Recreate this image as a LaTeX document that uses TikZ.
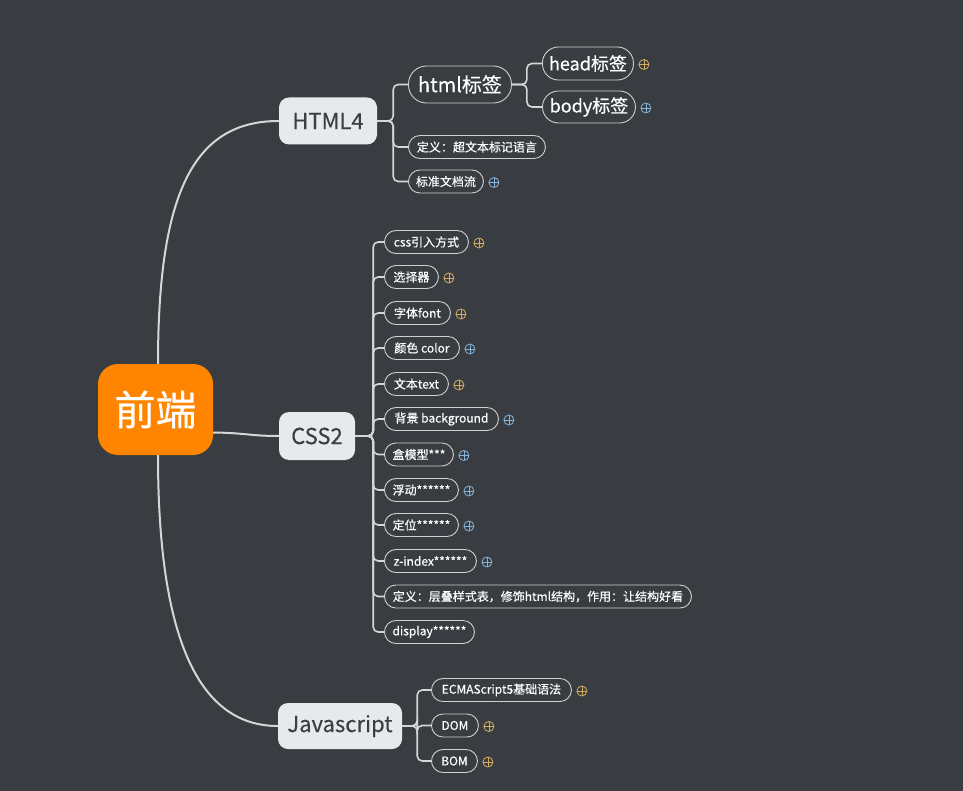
\documentclass[tikz,border=0pt]{standalone}
\usepackage{fontspec}
\setmainfont{Noto Sans CJK SC}[FakeBold=0.4]
\definecolor{bgc}{HTML}{393C41}
\definecolor{orng}{HTML}{FF8500}
\definecolor{lightbox}{HTML}{E8E9EC}
\definecolor{darktext}{HTML}{3B3E44}
\definecolor{linec}{HTML}{D6D6D6}
\definecolor{pillc}{HTML}{CFCFCF}
\definecolor{plusgold}{HTML}{D6AE62}
\definecolor{plusblue}{HTML}{86B6DE}
\tikzset{
  mainbox/.style={fill=lightbox, draw=none, rounded corners=10pt, inner sep=0pt, text=darktext, font=\fontsize{22}{26}\selectfont},
  pill/.style={draw=pillc, line width=0.9pt, inner sep=0pt, text=white, anchor=west},
  leaf/.style={pill, rounded corners=11.5pt, minimum height=23pt, font=\fontsize{12}{14}\selectfont},
  conn/.style={draw=linec, line width=1.6pt, rounded corners=5pt},
  curve/.style={draw=linec, line width=2pt},
  plusg/.style={circle, draw=plusgold, line width=0.8pt, minimum size=10pt, inner sep=0pt,
    path picture={\draw[plusgold, line width=0.8pt] (path picture bounding box.north) -- (path picture bounding box.south) (path picture bounding box.west) -- (path picture bounding box.east);}},
  plusb/.style={circle, draw=plusblue, line width=0.8pt, minimum size=10pt, inner sep=0pt,
    path picture={\draw[plusblue, line width=0.8pt] (path picture bounding box.north) -- (path picture bounding box.south) (path picture bounding box.west) -- (path picture bounding box.east);}},
}
\begin{document}
\begin{tikzpicture}[x=1pt, y=-1pt]
\useasboundingbox[fill=bgc] (0,0) rectangle (963,791);

% root
\node[fill=orng, rounded corners=20pt, minimum width=115pt, minimum height=91pt, inner sep=0pt, text=white, font=\fontsize{41}{46}\selectfont] (root) at (155.5,409.5) {前端};

% main branches
\node[mainbox, minimum width=98pt, minimum height=47pt] (html) at (328,121) {HTML4};
\node[mainbox, minimum width=76pt, minimum height=48pt] (css) at (317,436) {CSS2};
\node[mainbox, minimum width=124pt, minimum height=46pt] (js) at (340,726) {Javascript};

\draw[curve] ([xshift=2.5pt]root.north) .. controls (158,190) and (195,121) .. (html.west);
\draw[curve] ([yshift=-23pt]root.east) .. controls (247,433) and (250,436) .. (css.west);
\draw[curve] ([xshift=2.5pt]root.south) .. controls (158,630) and (195,726) .. (js.west);

% HTML4 children
\node[pill, rounded corners=18pt, minimum width=103pt, minimum height=37pt, font=\fontsize{20}{24}\selectfont] (htag) at (408,84.5) {html标签};
\node[leaf, minimum width=137pt] (hdef) at (408,147) {定义：超文本标记语言};
\node[leaf, minimum width=75pt] (hflow) at (408,181.5) {标准文档流};
\node[pill, rounded corners=16pt, minimum width=91pt, minimum height=33pt, font=\fontsize{18}{22}\selectfont] (head) at (542,63.5) {head标签};
\node[pill, rounded corners=16pt, minimum width=93pt, minimum height=32pt, font=\fontsize{18}{22}\selectfont] (body) at (542,107) {body标签};

\foreach \c in {htag,hdef,hflow} \draw[conn] (html.east) -- ++(16,0) |- (\c.west);
\foreach \c in {head,body} \draw[conn] (htag.east) -- ++(15,0) |- (\c.west);

\node[plusg] (phead) at ([xshift=10pt,yshift=-1pt]head.east) {};
\node[plusb] (pbody) at ([xshift=10pt,yshift=-1pt]body.east) {};
\node[plusb] (pflow) at ([xshift=10pt,yshift=-1pt]hflow.east) {};

% CSS2 children
\node[leaf, minimum width=84pt] (c1) at (384,242) {css引入方式};
\node[leaf, minimum width=54pt] (c2) at (384,277) {选择器};
\node[leaf, minimum width=66pt] (c3) at (384,313) {字体font};
\node[leaf, minimum width=75pt] (c4) at (384,348) {颜色 color};
\node[leaf, minimum width=64pt] (c5) at (384,384) {文本text};
\node[leaf, minimum width=114pt] (c6) at (384,419) {背景 background};
\node[leaf, minimum width=69pt] (c7) at (384,454.5) {盒模型***};
\node[leaf, minimum width=74pt] (c8) at (384,490) {浮动******};
\node[leaf, minimum width=74pt] (c9) at (384,525) {定位******};
\node[leaf, minimum width=92pt] (c10) at (384,561) {z-index******};
\node[leaf, minimum width=307pt] (c11) at (384,596.5) {定义：层叠样式表，修饰html结构，作用：让结构好看};
\node[leaf, minimum width=90pt] (c12) at (384,632) {display******};

\foreach \c in {c1,c2,c3,c4,c5,c6,c7,c8,c9,c10,c11,c12} \draw[conn] (css.east) -- ++(18,0) |- (\c.west);

\node[plusg] (pc1) at ([xshift=10pt,yshift=-1pt]c1.east) {};
\node[plusg] (pc2) at ([xshift=10pt,yshift=-1pt]c2.east) {};
\node[plusg] (pc3) at ([xshift=10pt,yshift=-1pt]c3.east) {};
\node[plusb] (pc4) at ([xshift=10pt,yshift=-1pt]c4.east) {};
\node[plusg] (pc5) at ([xshift=10pt,yshift=-1pt]c5.east) {};
\node[plusb] (pc6) at ([xshift=10pt,yshift=-1pt]c6.east) {};
\node[plusb] (pc7) at ([xshift=10pt,yshift=-1pt]c7.east) {};
\node[plusb] (pc8) at ([xshift=10pt,yshift=-1pt]c8.east) {};
\node[plusb] (pc9) at ([xshift=10pt,yshift=-1pt]c9.east) {};
\node[plusb] (pc10) at ([xshift=10pt,yshift=-1pt]c10.east) {};

% Javascript children
\node[leaf, minimum width=140pt] (j1) at (431,690) {ECMAScript5基础语法};
\node[leaf, minimum width=47pt] (j2) at (431,725.5) {DOM};
\node[leaf, minimum width=46pt] (j3) at (431,761) {BOM};

\foreach \c in {j1,j2,j3} \draw[conn] (js.east) -- ++(15,0) |- (\c.west);

\node[plusg] (pj1) at ([xshift=10pt,yshift=-1pt]j1.east) {};
\node[plusg] (pj2) at ([xshift=10pt,yshift=-1pt]j2.east) {};
\node[plusg] (pj3) at ([xshift=10pt,yshift=-1pt]j3.east) {};
\end{tikzpicture}
\end{document}
